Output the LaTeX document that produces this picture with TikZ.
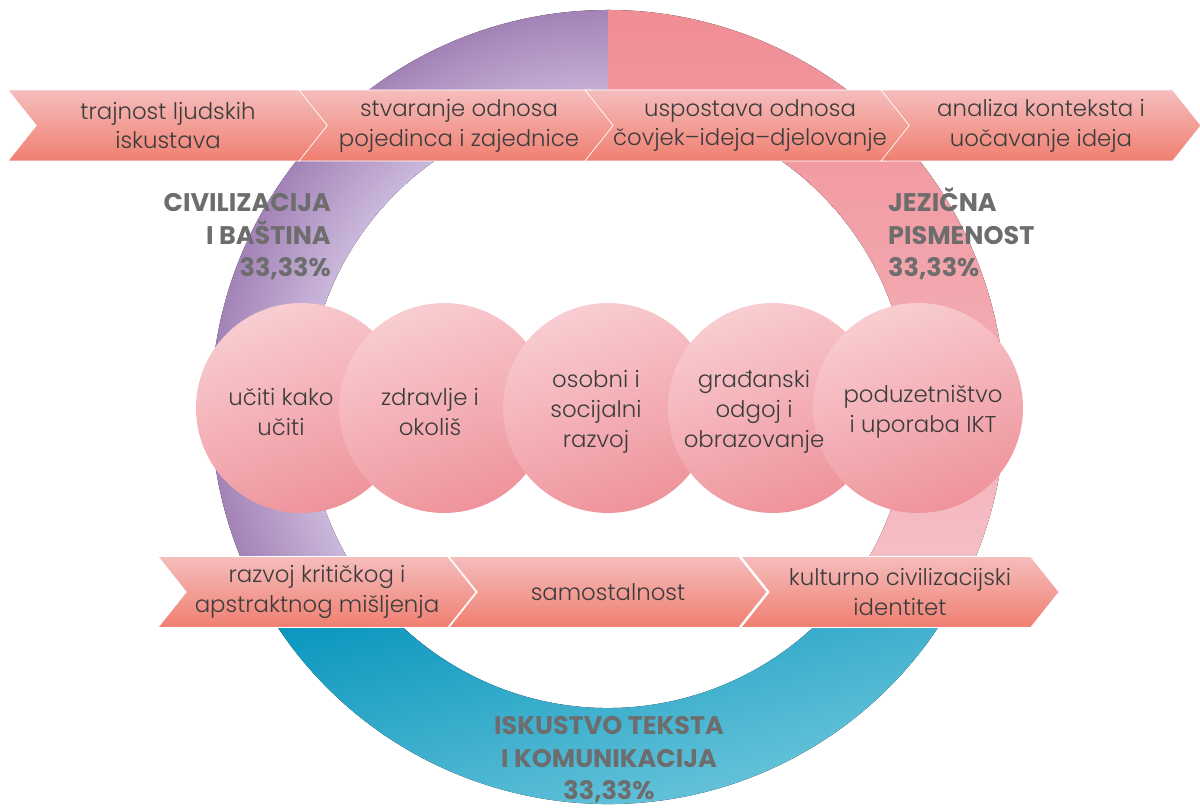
\documentclass[tikz,border=0pt]{standalone}
\usepackage{fontspec}
\setmainfont{Poppins}
\newfontfamily\thinfont{Poppins Light}
\usetikzlibrary{shapes.symbols,positioning}

\definecolor{purpledark}{HTML}{A383B7}
\definecolor{purplelight}{HTML}{CBB8DB}
\definecolor{pinkdark}{HTML}{F08D95}
\definecolor{pinklight}{HTML}{F6C2C9}
\definecolor{bluedark}{HTML}{0092BB}
\definecolor{bluelight}{HTML}{80CFE1}
\definecolor{chevtop}{HTML}{F5BDBD}
\definecolor{chevbot}{HTML}{F07F70}
\definecolor{balltop}{HTML}{F8CDD1}
\definecolor{ballbot}{HTML}{EF939B}
\definecolor{textgrey}{HTML}{3C3C3C}
\definecolor{labelgrey}{HTML}{6D6D6D}

\pgfdeclareradialshading{purplering}{\pgfpoint{0bp}{0bp}}{%
  color(0bp)=(purplelight); color(18.9bp)=(purplelight);
  color(25bp)=(purpledark); color(50bp)=(purpledark)}

\tikzset{
  chev/.style={signal, signal from=west, signal to=east,
    signal pointer angle=103, minimum height=1.42cm, inner sep=0pt,
    top color=chevtop, bottom color=chevbot, draw=white, line width=0.4pt,
    align=center, text=textgrey, font=\thinfont\fontsize{13}{17}\selectfont},
  ball/.style={circle, minimum size=4.2cm, inner sep=0pt,
    top color=balltop, bottom color=ballbot, shading angle=20},
  balltext/.style={align=center, text=textgrey,
    font=\thinfont\fontsize{13}{17}\selectfont},
  area/.style={text=labelgrey, font=\fontsize{14.5}{18.5}\selectfont\bfseries}
}

\begin{document}
\begin{tikzpicture}[x=0.02cm, y=0.02cm]

  \newcommand\RO{397}
  \newcommand\RI{301}
  \newcommand\YT{685.5}
  \newcommand\YB{219}
  \newcommand\YC{403}

  \useasboundingbox (0,0) rectangle (1200,811);

  % the ring, three thirds
  \begin{scope}[shift={(608,404)}]
    \begin{scope}
      \clip (90:\RO) arc[start angle=90, end angle=210, radius=\RO]
        -- (210:\RI) arc[start angle=210, end angle=90, radius=\RI] -- cycle;
      \fill[shading=purplering] (0,0) circle[radius=\RO];
    \end{scope}
    \fill[top color=pinkdark, bottom color=pinklight]
      (-30:\RO) arc[start angle=-30, end angle=90, radius=\RO]
      -- (90:\RI) arc[start angle=90, end angle=-30, radius=\RI] -- cycle;
    \fill[top color=bluedark, bottom color=bluelight, shading angle=15]
      (210:\RO) arc[start angle=210, end angle=330, radius=\RO]
      -- (330:\RI) arc[start angle=330, end angle=210, radius=\RI] -- cycle;
  \end{scope}

  % upper strip
  \node[chev, minimum width=6.4cm] (t1) at (168,\YT) {trajnost ljudskih\\iskustava};
  \node[chev, minimum width=6.4cm] (t2) at (459,\YT) {stvaranje odnosa\\pojedinca i zajednice};
  \node[chev, minimum width=6.4cm] (t3) at (750,\YT) {uspostava odnosa\\čovjek–ideja–djelovanje};
  \node[chev, minimum width=6.4cm] (t4) at (1041,\YT) {analiza konteksta i\\uočavanje ideja};

  % lower strip
  \node[chev, minimum width=6.36cm] (b1) at (317,\YB) {razvoj kritičkog i\\apstraktnog mišljenja};
  \node[chev, minimum width=6.36cm] (b2) at (608,\YB) {samostalnost};
  \node[chev, minimum width=6.36cm] (b3) at (900,\YB) {kulturno civilizacijski\\identitet};

  % cross-curricular themes
  \node[ball] (c1) at (301,\YC) {};
  \node[ball] (c2) at (444,\YC) {};
  \node[ball] (c3) at (608,\YC) {};
  \node[ball] (c4) at (773,\YC) {};
  \node[ball] (c5) at (918,\YC) {};

  \node[balltext] (u1) at (281,399) {učiti kako\\učiti};
  \node[balltext] (u2) at (430,399) {zdravlje i\\okoliš};
  \node[balltext] (u3) at (596,399) {osobni i\\socijalni\\razvoj};
  \node[balltext] (u4) at (754,399) {građanski\\odgoj i\\obrazovanje};
  \node[balltext] (u5) at (923,399) {poduzetništvo\\i uporaba IKT};

  % domain labels
  \node[area, anchor=east, align=right] (civ) at (337,574)
    {CIVILIZACIJA\\I BAŠTINA\\33,33\%};
  \node[area, anchor=west, align=left] (jez) at (882,577)
    {JEZIČNA\\PISMENOST\\33,33\%};
  \node[area, align=center] (isk) at (609,51)
    {ISKUSTVO TEKSTA\\I KOMUNIKACIJA\\33,33\%};

\end{tikzpicture}
\end{document}
